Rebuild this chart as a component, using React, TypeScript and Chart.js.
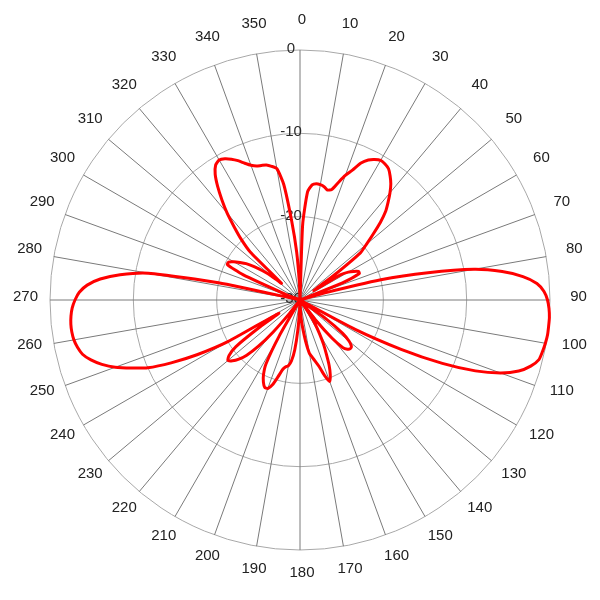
import React, { useEffect, useRef } from 'react';
import { Chart, registerables } from 'chart.js';

Chart.register(...registerables);

// Azimuth (degrees) of each sample, every 2 degrees
const azimuthDeg: number[] = Array.from({ length: 180 }, (_, i) => i * 2);

// Relative gain (dB), one value per azimuth above
const gainDb: number[] = [
  -30, -21, -17, -16.1, -15.9, -15.95, -16.1, -16.4, -16.2, -15.2, // 0-18
  -14.1, -13.2, -12.0, -11.3, -10.9, -10.65, -10.75, -11.0, -11.6, -12.3, // 20-38
  -13.2, -14.2, -15.2, -16.6, -18.2, -19.6, -20.8, -25, -28, -24.3, // 40-58
  -23.3, -22.7, -22.2, -22.2, -24.5, -30, -30, -27, -20, -14.3, // 60-78
  -8.8, -5.5, -3.1, -1.5, -0.7, -0.3, -0.1, 0, 0, 0, // 80-98
  -0.1, -0.25, -0.45, -1.2, -2.4, -4.4, -7.3, -11.3, -16.5, -22.5, // 100-118
  -30, -30, -30, -26, -23.5, -22.3, -21.7, -21.6, -21.8, -22.3, // 120-138
  -24, -27, -30, -28, -26.5, -25.3, -24, -22.8, -21.4, -20.3, // 140-158
  -19.6, -20.5, -21.7, -22.4, -23.0, -23.5, -24.8, -26.3, -27.5, -29, // 160-178
  -30, -29, -26.5, -24, -22.6, -22.0, -21.8, -21.4, -20.4, -19.3, // 180-198
  -18.7, -18.7, -19.2, -20.0, -21.3, -25, -30, -30, -30, -28, // 200-218
  -25, -22.5, -20.8, -19.8, -19.1, -18.7, -19.2, -20.5, -24, -27, // 220-238
  -20, -16, -12.8, -10, -8.2, -6.4, -5.0, -3.9, -3.1, -2.7, // 240-258
  -2.45, -2.35, -2.35, -2.45, -2.65, -3.0, -3.5, -4.4, -5.9, -8.2, // 260-278
  -11.5, -20, -30, -30, -30, -30, -28, -22.5, -20.3, -20.3, // 280-298
  -20.8, -21.5, -22.2, -23.2, -24.3, -25.5, -27, -21.7, -19.8, -18.2, // 300-318
  -16.4, -14.8, -13.2, -11.8, -10.9, -10.6, -10.8, -11.2, -11.7, -12.3, // 320-338
  -12.8, -13.1, -13.2, -13.3, -13.6, -14.0, -16.0, -20.5, -24.2, -28, // 340-358
];

// Radial tick labels (dB)
const radialTicks: number[] = [0, -10, -20, -30];

// Angular labels shown around the outside
const angleLabels: string[] = [
  '0', '10', '20', '30', '40', '50', '60', '70', '80', '90', '100', '110',
  '120', '130', '140', '150', '160', '170', '180', '190', '200', '210', '220', '230',
  '240', '250', '260', '270', '280', '290', '300', '310', '320', '330', '340', '350',
];

const FONT = '"Liberation Sans", Arial, Helvetica, sans-serif';

const labelPlugin = {
  id: 'polarLabels',
  beforeDatasetsDraw(chart: any) {
    const s = chart.scales.r;
    const ctx = chart.ctx as CanvasRenderingContext2D;
    ctx.save();
    ctx.textAlign = 'center';
    ctx.textBaseline = 'middle';
    ctx.font = `15px ${FONT}`;
    ctx.fillStyle = '#2a2a2a';
    radialTicks.forEach((v) => {
      const d = s.getDistanceFromCenterForValue(v);
      ctx.fillText(String(v), s.xCenter - 9, s.yCenter - d - 1);
    });
    ctx.font = `15px ${FONT}`;
    ctx.fillStyle = '#222222';
    const R = s.drawingArea + 26.5;
    angleLabels.forEach((lab) => {
      const a = (Number(lab) * Math.PI) / 180;
      ctx.fillText(lab, s.xCenter + 2 + R * Math.sin(a), s.yCenter - 3.6 - R * Math.cos(a));
    });
    ctx.restore();
  },
};

export default function App() {
  const ref = useRef<HTMLCanvasElement | null>(null);

  useEffect(() => {
    if (!ref.current) return;
    const chart = new Chart(ref.current, {
      type: 'radar',
      data: {
        labels: azimuthDeg.map(String),
        datasets: [
          {
            data: gainDb,
            borderColor: '#ff0000',
            borderWidth: 3,
            pointRadius: 0,
            pointHoverRadius: 0,
            fill: false,
            tension: 0.2,
          },
        ],
      },
      options: {
        responsive: false,
        animation: false,
        layout: { padding: 50 },
        plugins: { legend: { display: false }, tooltip: { enabled: false } },
        scales: {
          r: {
            min: -30,
            max: 0,
            ticks: { stepSize: 10, display: false },
            grid: { color: '#a8a8a8', lineWidth: 1, circular: true },
            angleLines: {
              display: true,
              color: (c: any) => (c.index % 5 === 0 ? '#7a7a7a' : 'rgba(0,0,0,0)'),
              lineWidth: (c: any) => (c.index % 5 === 0 ? 1 : 0),
            },
            pointLabels: { display: false },
          },
        },
      },
      plugins: [labelPlugin],
    } as any);
    return () => chart.destroy();
  }, []);

  return (
    <div style={{ position: 'absolute', left: 0, top: 0, width: 600, height: 600, background: '#fff' }}>
      <canvas ref={ref} width={600} height={600} />
    </div>
  );
}
